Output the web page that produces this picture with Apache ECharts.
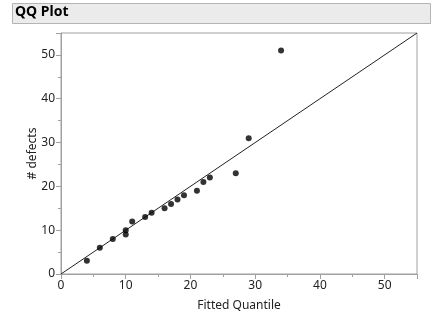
<!DOCTYPE html>
<html>
<head>
<meta charset="utf-8">
<script src="https://cdn.jsdelivr.net/npm/echarts@6/dist/echarts.min.js"></script>
<style>
html,body{margin:0;padding:0;background:#fff;}
#chart{width:433px;height:323px;}
</style>
</head>
<body>
<div id="chart"></div>
<script>
// Data
var fittedQuantile = [4, 6, 8, 10, 10, 11, 13, 14, 16, 17, 18, 19, 21, 22, 23, 27, 29, 34];
var defects        = [3, 6, 8, 10, 9, 12, 13, 14, 15, 16, 17, 18, 19, 21, 22, 23, 31, 51];
var refLineX = [0, 55];
var refLineY = [0, 55];
var titleText = 'QQ Plot';
var xName = 'Fitted Quantile';
var yName = '# defects';

var points = fittedQuantile.map(function (x, i) { return [x, defects[i]]; });
var refLine = refLineX.map(function (x, i) { return [x, refLineY[i]]; });

var axisColor = '#a0a0a0';
var font = 'Noto Sans';

var chart = echarts.init(document.getElementById('chart'), null, {renderer: 'canvas'});
chart.setOption({
  animation: false,
  graphic: [
    {type: 'rect', shape: {x: 12.5, y: 3.5, width: 418, height: 20},
     style: {fill: '#ebebeb', stroke: '#b4b4b4', lineWidth: 1}, z: 0},
    {type: 'text', left: 15, top: 5,
     style: {text: titleText, font: 'bold 14px "Noto Sans"', fill: '#000'}, z: 1}
  ],
  grid: {left: 61, top: 33, right: 16, bottom: 49, show: true,
         borderColor: axisColor, borderWidth: 1, backgroundColor: '#fff'},
  xAxis: {
    type: 'value', min: 0, max: 55, interval: 10,
    splitLine: {show: false},
    axisLine: {show: true, onZero: false, lineStyle: {color: axisColor}},
    axisTick: {show: true, length: 5, lineStyle: {color: axisColor}},
    minorTick: {show: true, splitNumber: 2, length: 3, lineStyle: {color: axisColor}},
    axisLabel: {color: '#222', fontFamily: font, fontSize: 12, margin: 6, showMaxLabel: false},
    name: xName, nameLocation: 'middle', nameGap: 26,
    nameTextStyle: {color: '#222', fontFamily: font, fontSize: 12}
  },
  yAxis: {
    type: 'value', min: 0, max: 55, interval: 10,
    splitLine: {show: false},
    axisLine: {show: true, onZero: false, lineStyle: {color: axisColor}},
    axisTick: {show: true, length: 5, lineStyle: {color: axisColor}},
    minorTick: {show: true, splitNumber: 2, length: 3, lineStyle: {color: axisColor}},
    axisLabel: {color: '#222', fontFamily: font, fontSize: 12, margin: 6, showMaxLabel: false},
    name: yName, nameLocation: 'middle', nameGap: 22, nameMoveOverlap: false,
    nameTextStyle: {color: '#222', fontFamily: font, fontSize: 12}
  },
  series: [
    {type: 'line', data: refLine, symbol: 'none', silent: true,
     lineStyle: {color: '#222', width: 1}, z: 2},
    {type: 'scatter', data: points, symbol: 'circle', symbolSize: 6,
     itemStyle: {color: '#000'}, z: 3}
  ]
});
</script>
</body>
</html>
